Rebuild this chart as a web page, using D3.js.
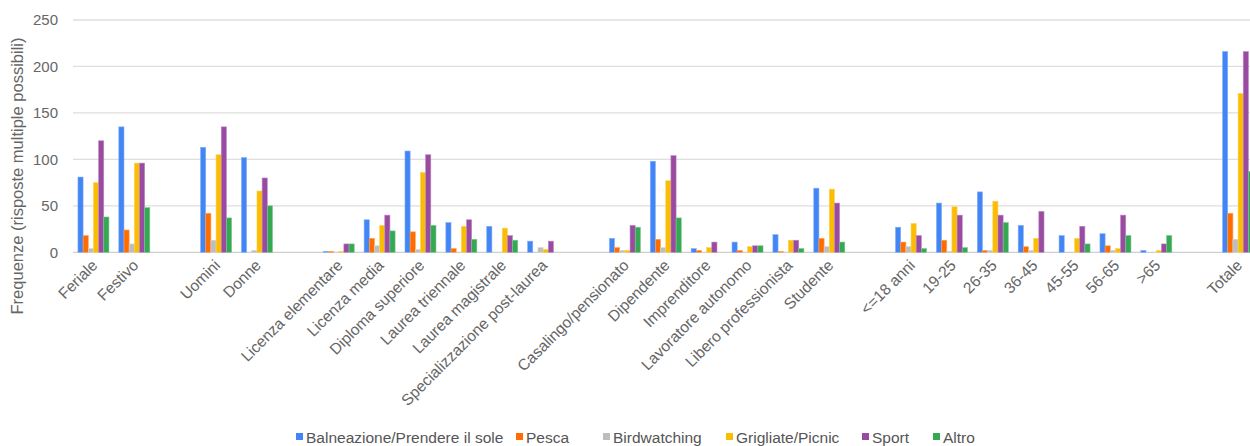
<!DOCTYPE html>
<html lang="it">
<head>
<meta charset="utf-8">
<script src="https://cdn.jsdelivr.net/npm/d3@7"></script>
<style>
  html, body { margin: 0; padding: 0; background: #fff; }
  svg { display: block; font-family: Arial, "Liberation Sans", sans-serif; }
</style>
</head>
<body>
<svg id="chart" width="1250" height="446"></svg>
<script>
// Categorie sull'asse x (le stringhe vuote sono spazi di separazione tra i gruppi)
const categories = [
  "Feriale", "Festivo", "",
  "Uomini", "Donne", "",
  "Licenza elementare", "Licenza media", "Diploma superiore", "Laurea triennale",
  "Laurea magistrale", "Specializzazione post-laurea", "",
  "Casalingo/pensionato", "Dipendente", "Imprenditore", "Lavoratore autonomo",
  "Libero professionista", "Studente", "",
  "<=18 anni", "19-25", "26-35", "36-45", "45-55", "56-65", ">65", "",
  "Totale"
];

const seriesNames = ["Balneazione/Prendere il sole", "Pesca", "Birdwatching", "Grigliate/Picnic", "Sport", "Altro"];

// Frequenze per attività
const balneazione = [81, 135, null, 113, 102, null, 1, 35, 109, 32, 28, 12, null, 15, 98, 4, 11, 19, 69, null, 27, 53, 65, 29, 18, 20, 2, null, 216];
const pesca       = [18, 24, null, 42, 0, null, 1, 15, 22, 4, 0, 0, null, 5, 14, 2, 2, 1, 15, null, 11, 13, 2, 6, 0, 7, 0, null, 42];
const birdwatching= [4, 9, null, 13, 2, null, 0, 7, 3, 0, 0, 5, null, 2, 5, 0, 0, 0, 6, null, 6, 1, 2, 2, 0, 2, 0, null, 14];
const grigliate   = [75, 96, null, 105, 66, null, 1, 29, 86, 28, 26, 3, null, 2, 77, 5, 6, 13, 68, null, 31, 49, 55, 15, 15, 4, 2, null, 171];
const sport       = [120, 96, null, 135, 80, null, 9, 40, 105, 35, 18, 12, null, 29, 104, 11, 7, 13, 53, null, 18, 40, 40, 44, 28, 40, 9, null, 216];
const altro       = [38, 48, null, 37, 50, null, 9, 23, 29, 14, 13, 0, null, 27, 37, 0, 7, 4, 11, null, 4, 5, 32, 0, 9, 18, 18, null, 87];

const seriesValues = [balneazione, pesca, birdwatching, grigliate, sport, altro];
const colors = ["#4285F4", "#FF6D01", "#BDBDBD", "#FBBC04", "#994AA1", "#34A853"];

const yTicks = [0, 50, 100, 150, 200, 250];

const svg = d3.select("#chart");
const plotLeft = 73, plotTop = 20, plotBottom = 252.3;
const step = 40.88;

const x0 = d3.scaleBand()
  .domain(d3.range(categories.length))
  .range([plotLeft, plotLeft + step * categories.length])
  .padding(0);

const groupInset = (x0.bandwidth() - 31) / 2;
const x1 = d3.scaleBand()
  .domain(d3.range(seriesNames.length))
  .range([groupInset, x0.bandwidth() - groupInset])
  .padding(0);

const y = d3.scaleLinear().domain([0, 250]).range([plotBottom, plotTop]);

// Griglia orizzontale
svg.append("g")
  .selectAll("line")
  .data(yTicks)
  .join("line")
  .attr("x1", plotLeft)
  .attr("x2", 1250)
  .attr("y1", d => y(d))
  .attr("y2", d => y(d))
  .attr("stroke", d => d === 0 ? "#cfcfcf" : "#dedede")
  .attr("stroke-width", 1.3);

// Asse y con etichette
const yAxis = svg.append("g")
  .attr("transform", `translate(${plotLeft - 15},0)`)
  .call(d3.axisLeft(y).tickValues(yTicks).tickSize(0).tickPadding(0));
yAxis.select(".domain").remove();
yAxis.selectAll("text")
  .attr("fill", "#666")
  .style("font-size", "15px");

// Titolo asse y
svg.append("text")
  .attr("transform", "translate(23,176) rotate(-90)")
  .attr("text-anchor", "middle")
  .attr("fill", "#666")
  .style("font-size", "16.5px")
  .text("Frequenze (risposte  multiple possibili)");

// Barre
const groups = svg.append("g")
  .selectAll("g")
  .data(categories.map((c, i) => i))
  .join("g")
  .attr("transform", i => `translate(${x0(i)},0)`);

groups.selectAll("rect")
  .data(i => seriesValues.map((vals, s) => ({ s, v: vals[i] })).filter(d => d.v !== null && d.v > 0))
  .join("rect")
  .attr("x", d => x1(d.s))
  .attr("width", x1.bandwidth())
  .attr("y", d => y(d.v))
  .attr("height", d => y(0) - y(d.v))
  .attr("fill", d => colors[d.s])
  .attr("stroke", d => d3.interpolateRgb(colors[d.s], "#fff")(0.35))
  .attr("stroke-width", 0.6);

// Etichette delle categorie, ruotate di 45°
svg.append("g")
  .selectAll("text")
  .data(categories.map((c, i) => ({ c, i })).filter(d => d.c !== ""))
  .join("text")
  .attr("transform", d => `translate(${x0(d.i) + x0.bandwidth() / 2 + 5},${plotBottom + 14}) rotate(-45)`)
  .attr("text-anchor", "end")
  .attr("fill", "#666")
  .style("font-size", "15.6px")
  .text(d => d.c);

// Legenda
const legendX = [296, 516, 603, 726, 862, 933];
const legend = svg.append("g")
  .selectAll("g")
  .data(seriesNames.map((n, i) => ({ n, i })))
  .join("g")
  .attr("transform", d => `translate(${legendX[d.i]},437)`);
legend.append("rect")
  .attr("x", 0).attr("y", -4)
  .attr("width", 7).attr("height", 7)
  .attr("fill", d => colors[d.i]);
legend.append("text")
  .attr("x", 10)
  .attr("y", 5.5)
  .attr("fill", "#555")
  .style("font-size", "15.5px")
  .text(d => d.n);
</script>
</body>
</html>
